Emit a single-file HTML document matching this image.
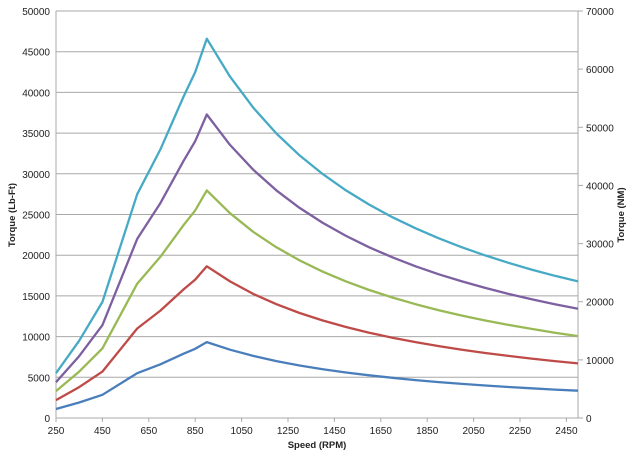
<!DOCTYPE html>
<html><head><meta charset="utf-8"><style>
html,body{margin:0;padding:0;background:#fff;}
svg{display:block;font-family:"Liberation Sans",sans-serif;}
</style></head><body>
<svg id="c" width="633" height="459" xmlns="http://www.w3.org/2000/svg"></svg>
<script>
const s=document.getElementById('c');
const X0=56,X1=578,Y0=418,Y1=11;
const xs=r=>X0+(r-250)*(X1-X0)/2250;
const ys=v=>Y0-v*(Y0-Y1)/50000;
let h='';
for(let v=0;v<=50000;v+=5000){const y=ys(v).toFixed(1);
 if(v>0)h+=`<line x1="${X0}" x2="${X1}" y1="${y}" y2="${y}" stroke="#a8a8a8" stroke-width="1"/>`;
 h+=`<text x="50" y="${+y+4}" font-size="10" text-anchor="end" fill="#222">${v}</text>`;}
for(let v=0;v<=70000;v+=10000){const y=(Y0-v*(Y0-Y1)/70000).toFixed(1);
 h+=`<line x1="${X1}" x2="${X1+5}" y1="${y}" y2="${y}" stroke="#a8a8a8"/>`;
 h+=`<text x="${X1+8}" y="${+y+4}" font-size="10" fill="#222">${v}</text>`;}
h+=`<line x1="${X0}" x2="${X0}" y1="${Y1}" y2="${Y0}" stroke="#a8a8a8"/>`;
h+=`<line x1="${X1}" x2="${X1}" y1="${Y1}" y2="${Y0}" stroke="#a8a8a8"/>`;
h+=`<line x1="${X0}" x2="${X1}" y1="${Y0}" y2="${Y0}" stroke="#a8a8a8"/>`;
for(let r=250;r<=2450;r+=200){const x=xs(r).toFixed(1);
 h+=`<line x1="${x}" x2="${x}" y1="${Y0}" y2="${Y0+4}" stroke="#a8a8a8"/>`;
 h+=`<text x="${x}" y="${Y0+16}" font-size="10" text-anchor="middle" fill="#222">${r}</text>`;}
h+=`<text x="317" y="448" font-size="9.5" font-weight="bold" text-anchor="middle" fill="#222">Speed (RPM)</text>`;
h+=`<text transform="translate(15,215) rotate(-90)" font-size="9.5" font-weight="bold" text-anchor="middle" fill="#222">Torque (Lb-Ft)</text>`;
h+=`<text transform="translate(624,215) rotate(-90)" font-size="9.5" font-weight="bold" text-anchor="middle" fill="#222">Torque (NM)</text>`;
const base=[[250,1100],[350,1900],[450,2850],[600,5500],[700,6600],[800,7900],[850,8500],[900,9320]];
for(let r=1000;r<=2500;r+=100)base.push([r,9320*900/r]);
const cols=['#4a7ebb','#be4b48','#98b954','#7d60a0','#46aac5'];
cols.forEach((c,i)=>{const k=i+1;
 const p=base.map(([r,v])=>xs(r).toFixed(1)+','+ys(v*k).toFixed(1)).join(' ');
 h+=`<polyline points="${p}" fill="none" stroke="${c}" stroke-width="2.3" stroke-linejoin="round"/>`;});
s.innerHTML=h;
</script>
</body></html>
